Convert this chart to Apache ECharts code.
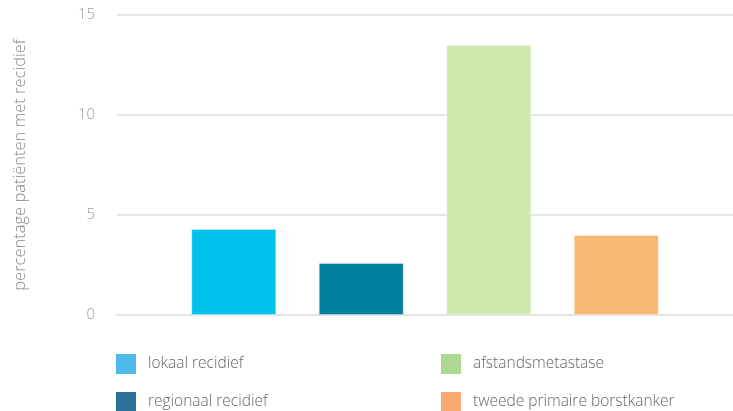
<!DOCTYPE html>
<html>
<head>
<meta charset="utf-8">
<script src="https://cdn.jsdelivr.net/npm/echarts@6/dist/echarts.min.js"></script>
<style>html,body{margin:0;padding:0;background:#fff}#c{width:733px;height:411px}</style>
</head>
<body>
<div id="c"></div>
<script>
const seriesNames = ['lokaal recidief', 'regionaal recidief', 'afstandsmetastase', 'tweede primaire borstkanker'];
const seriesValues = [4.3, 2.6, 13.5, 4.0];
const barColors = ['#00c1ec', '#00809f', '#cfe7ad', '#f6b973'];
const legendColors = ['#4dbaea', '#2e7397', '#afd794', '#f9aa70'];
const yTicks = [0, 5, 10, 15];
const yAxisTitle = 'percentage patiënten met recidief';

const chart = echarts.init(document.getElementById('c'), null, {renderer: 'canvas'});
const font = '"Open Sans", Lato, sans-serif';
const series = seriesNames.map((n, i) => ({
  name: n,
  type: 'bar',
  data: [seriesValues[i]],
  barWidth: 85,
  barGap: '50%',
  itemStyle: {color: barColors[i], borderColor: 'rgba(255,255,255,0.35)', borderWidth: 1},
  emphasis: {disabled: true}
}));
const legendItem = i => ({name: seriesNames[i], itemStyle: {color: legendColors[i], borderWidth: 0}});
const legendCommon = {
  orient: 'vertical', top: 354, height: 120, padding: 0, itemWidth: 20, itemHeight: 20, itemGap: 18,
  icon: 'rect', selectedMode: false,
  textStyle: {color: '#666', fontSize: 15.5, fontWeight: 300, fontFamily: font, padding: [0, 0, 0, 7]}
};
chart.setOption({
  animation: false,
  textStyle: {fontFamily: font},
  grid: {left: 117, right: 0, top: 15, bottom: 96},
  legend: [
    Object.assign({}, legendCommon, {left: 116, data: [legendItem(0), legendItem(1)]}),
    Object.assign({}, legendCommon, {left: 441, data: [legendItem(2), legendItem(3)]})
  ],
  xAxis: {
    type: 'category', data: [''],
    axisLine: {lineStyle: {color: '#e4e4e4', width: 2}},
    axisTick: {show: false}, axisLabel: {show: false}
  },
  yAxis: {
    type: 'value', min: yTicks[0], max: yTicks[yTicks.length - 1], interval: 5,
    name: yAxisTitle, nameLocation: 'middle', nameGap: 88,
    nameTextStyle: {color: '#888', fontSize: 16.5, fontWeight: 300, fontFamily: font},
    axisLine: {show: false}, axisTick: {show: false},
    axisLabel: {color: '#999', fontSize: 15, fontWeight: 300, margin: 22, fontFamily: font},
    splitLine: {lineStyle: {color: '#e6e6e6', width: 2}}
  },
  series: series
});
</script>
</body>
</html>
